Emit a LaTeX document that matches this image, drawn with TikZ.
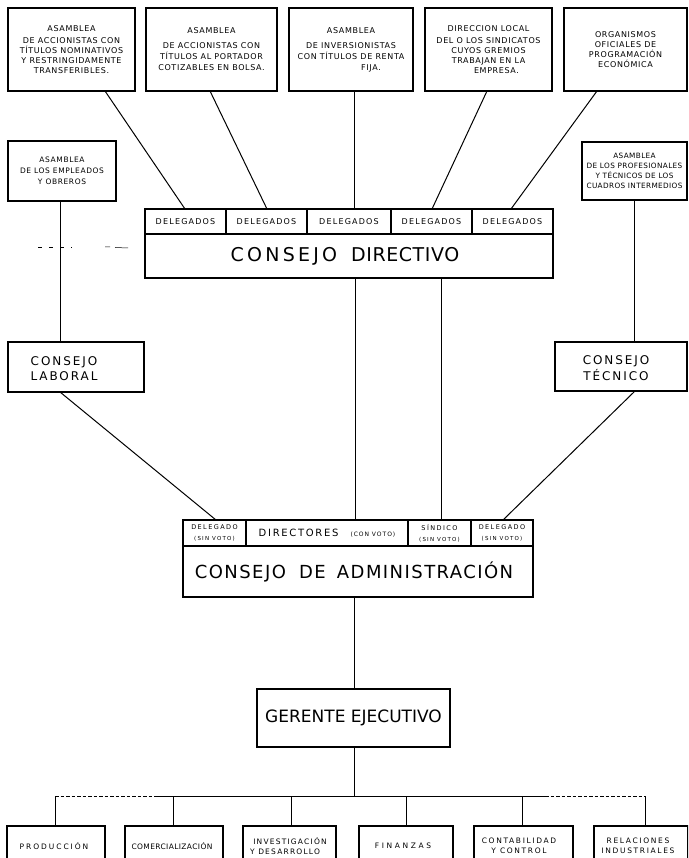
\documentclass[tikz,border=0pt]{standalone}
\usepackage{fontspec}
\setmainfont{DejaVu Sans}
\usetikzlibrary{calc}
\newcommand{\fsz}[3]{\fontsize{#1}{#2}\selectfont\addfontfeature{LetterSpace=#3}}
\tikzset{
  box/.style={draw, line width=1.1pt, inner sep=0pt, outer sep=0pt, rectangle, anchor=north west, align=center},
  lnk/.style={line width=1pt},
  vln/.style={line width=0.8pt},
  txt/.style={inner sep=0pt, align=center},
  busdash/.style={line width=1pt, dash pattern=on 3.5pt off 2pt},
  topfont/.style={font=\fsz{8}{#1}{8}},
}
\begin{document}
\begin{tikzpicture}[x=1pt,y=-1pt]
\useasboundingbox (0,0) rectangle (688,858);
\fill[white] (0,0) rectangle (688,858);
\clip (0,0) rectangle (688,858);

% ---------- top row ----------
\node[box, topfont=9.8, minimum width=127pt, minimum height=83pt] (A1) at (8,8)
  {ASAMBLEA\\[2.5pt]DE ACCIONISTAS CON\\TÍTULOS NOMINATIVOS\\Y RESTRINGIDAMENTE\\TRANSFERIBLES.};
\node[box, topfont=11, minimum width=131pt, minimum height=83pt] (A2) at (146,8)
  {ASAMBLEA\\[4pt]DE ACCIONISTAS CON\\TÍTULOS AL PORTADOR\\COTIZABLES EN BOLSA.};
\node[box, topfont=11, minimum width=124pt, minimum height=83pt] (A3) at (289,8)
  {ASAMBLEA\\[4pt]DE INVERSIONISTAS\\CON TÍTULOS DE RENTA\\\hspace*{40pt}FIJA.};
\node[box, topfont=9.8, minimum width=127pt, minimum height=83pt] (A4) at (425,8)
  {DIRECCION LOCAL\\[2.5pt]DEL O LOS SINDICATOS\\CUYOS GREMIOS\\TRABAJAN EN LA\\\hspace*{16pt}EMPRESA.};
\node[box, topfont=10, minimum width=123pt, minimum height=83pt] (A5) at (564,8)
  {ORGANISMOS\\OFICIALES DE\\PROGRAMACIÓN\\ECONÓMICA};

% ---------- side assemblies ----------
\node[box, font=\fsz{7.5}{11}{8}, minimum width=108pt, minimum height=60pt] (L1) at (8,141)
  {ASAMBLEA\\DE LOS EMPLEADOS\\Y OBREROS};
\node[box, font=\fsz{7.3}{10}{5}, minimum width=105pt, minimum height=58pt] (R1) at (582,142)
  {ASAMBLEA\\DE LOS PROFESIONALES\\Y TÉCNICOS DE LOS\\CUADROS INTERMEDIOS};

% ---------- consejo directivo ----------
\tikzset{dlg/.style={box, font=\fsz{8}{9}{15}, minimum height=25pt}}
\node[dlg, minimum width=81pt] (D1) at (145,209) {DELEGADOS};
\node[dlg, minimum width=81pt] (D2) at (226,209) {DELEGADOS};
\node[dlg, minimum width=84pt] (D3) at (307,209) {DELEGADOS};
\node[dlg, minimum width=81pt] (D4) at (391,209) {DELEGADOS};
\node[dlg, minimum width=81pt] (D5) at (472,209) {DELEGADOS};
\node[box, minimum width=408pt, minimum height=44pt, font=\fontsize{19}{22}\selectfont] (DM) at (145,234)
  {\hspace*{-8pt}{\addfontfeature{LetterSpace=17}CONSEJO}\hspace{14pt}{\addfontfeature{LetterSpace=3}DIRECTIVO}};

% ---------- consejos laboral / tecnico ----------
\node[box, minimum width=136pt, minimum height=50pt] (LB) at (8,342) {};
\node[txt, font=\fsz{12}{15}{16}] (LBt) at (64,369) {CONSEJO\\LABORAL};
\node[box, minimum width=132pt, minimum height=49pt] (TB) at (555,342) {};
\node[txt, font=\fsz{12}{16}{16}] (TBt) at (616,368) {CONSEJO\\TÉCNICO};

% ---------- consejo de administracion ----------
\tikzset{sm/.style={box, font=\fsz{6.5}{11}{22}, minimum height=26pt}}
\node[sm, minimum width=63pt] (C1) at (183,520) {DELEGADO\\{\fsz{5.5}{11}{22}(SIN VOTO)}};
\node[sm, minimum width=162pt] (C2) at (246,520)
  {{\fsz{10}{12}{17}DIRECTORES}\hspace{12pt}{\fsz{6}{11}{16}(CON VOTO)}};
\node[sm, minimum width=63pt] (C3) at (408,520) {SÍNDICO\\{\fsz{5.5}{11}{22}(SIN VOTO)}};
\node[sm, minimum width=62pt] (C4) at (471,520) {DELEGADO\\{\fsz{5.5}{11}{22}(SIN VOTO)}};
\node[box, minimum width=350pt, minimum height=51pt, font=\fsz{18}{22}{8}] (CM) at (183,546)
  {\hspace*{-8pt}CONSEJO\hspace{6pt} DE\hspace{4pt} ADMINISTRACIÓN};

% ---------- gerente ----------
\node[box, minimum width=193pt, minimum height=58pt, font=\fsz{17}{20}{0}] (G) at (257,689)
  {GERENTE EJECUTIVO};

% ---------- bottom departments ----------
\node[box, minimum width=98pt, minimum height=50pt] (B1) at (7,826) {};
\node[box, minimum width=98pt, minimum height=50pt] (B2) at (125,826) {};
\node[box, minimum width=93pt, minimum height=50pt] (B3) at (243,826) {};
\node[box, minimum width=94pt, minimum height=50pt] (B4) at (359,826) {};
\node[box, minimum width=99pt, minimum height=50pt] (B5) at (474,826) {};
\node[box, minimum width=94pt, minimum height=50pt] (B6) at (594,826) {};
\node[txt, font=\fsz{7.5}{10}{26}] (B1t) at (54,846) {PRODUCCIÓN};
\node[txt, font=\fsz{7.5}{10}{5}] (B2t) at (172,846) {COMERCIALIZACIÓN};
\node[txt, font=\fsz{7.5}{10}{16}] (B3t) at (290,846) {INVESTIGACIÓN\\\hspace*{-10pt}Y DESARROLLO};
\node[txt, font=\fsz{7.5}{10}{35}] (B4t) at (403,846) {FINANZAS};
\node[txt, font=\fsz{7.5}{10}{22}] (B5t) at (519,846) {CONTABILIDAD\\Y CONTROL};
\node[txt, font=\fsz{7.5}{10}{22}] (B6t) at (638,846) {RELACIONES\\INDUSTRIALES};

% ---------- connectors ----------
\draw[lnk] ($(A1.south west)+(97,0)$) -- ($(D1.north west)+(40,0)$);
\draw[lnk] ($(A2.south west)+(64,0)$) -- ($(D2.north west)+(41,0)$);
\draw[vln] ($(A3.south west)+(65,0)$) -- ($(D3.north west)+(47,0)$);
\draw[lnk] ($(A4.south west)+(62,0)$) -- ($(D4.north west)+(41,0)$);
\draw[lnk] ($(A5.south west)+(33,0)$) -- ($(D5.north west)+(39,0)$);

\draw[vln] ($(L1.south west)+(52,0)$) -- ($(LB.north west)+(52,0)$);
\draw[vln] ($(R1.south west)+(52,0)$) -- ($(TB.north west)+(79,0)$);
\draw[lnk] ($(LB.south west)+(52,0)$) -- ($(C1.north west)+(33,0)$);
\draw[lnk] ($(TB.south west)+(80,0)$) -- ($(C4.north west)+(32,0)$);

\draw[vln] ($(DM.south west)+(210,0)$) -- ($(C2.north west)+(109,0)$);
\draw[vln] ($(DM.south west)+(296,0)$) -- ($(C3.north west)+(33,0)$);

\draw[vln] ($(CM.south west)+(171,0)$) -- ($(G.north west)+(97,0)$);

\coordinate (k1) at (55,796);
\coordinate (m1) at (157,796);
\coordinate (kg) at (354,796);
\coordinate (m2) at (545,796);
\coordinate (k6) at (645,796);
\draw[vln] ($(G.south west)+(97,0)$) -- (kg);
\draw[busdash] (k1) -- (m1);
\draw[lnk] (m1) -- (m2);
\draw[busdash] (m2) -- (k6);
\draw[vln] (k1) -- ($(B1.north west)+(48,0)$);
\draw[vln] ($(B2.north west)+(48,-30)$) -- ($(B2.north west)+(48,0)$);
\draw[vln] ($(B3.north west)+(48,-30)$) -- ($(B3.north west)+(48,0)$);
\draw[vln] ($(B4.north west)+(47,-30)$) -- ($(B4.north west)+(47,0)$);
\draw[vln] ($(B5.north west)+(48,-30)$) -- ($(B5.north west)+(48,0)$);
\draw[vln] (k6) -- ($(B6.north west)+(51,0)$);

% faint dashes left of the laboral line
\draw[line width=0.5pt, dash pattern=on 4pt off 7pt] (38,247) -- (72,247);
\draw[line width=0.5pt] (105,247) -- (110,247) (115,247.5) -- (128,248);
\end{tikzpicture}
\end{document}
